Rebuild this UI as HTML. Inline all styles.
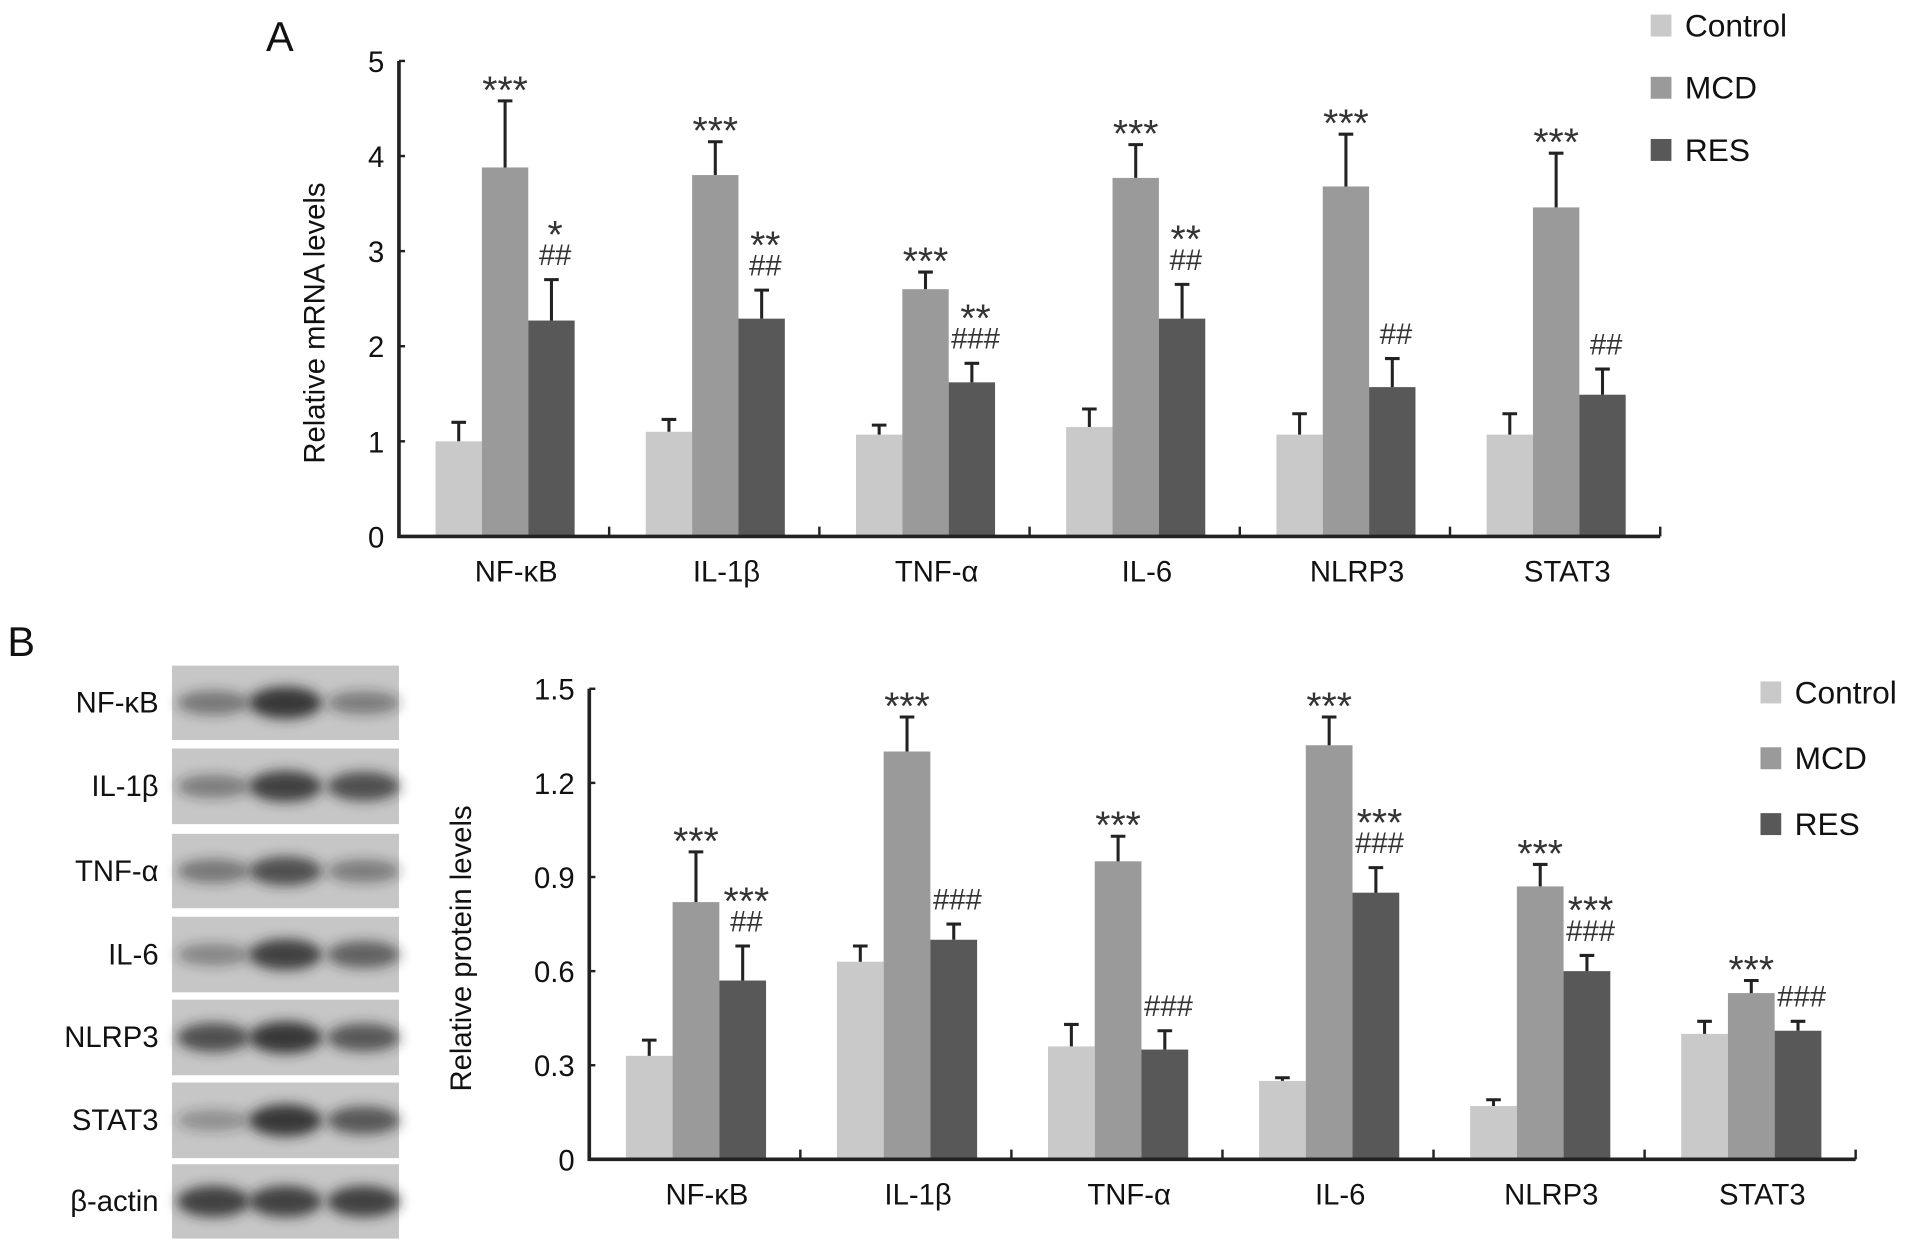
<!DOCTYPE html>
<html><head><meta charset="utf-8"><style>
html,body{margin:0;padding:0;background:#fff;}
svg{display:block;font-family:"Liberation Sans",Arial,sans-serif;}
</style></head><body>
<svg id="fig" width="1913" height="1252" viewBox="0 0 1568 1027" preserveAspectRatio="none" xmlns="http://www.w3.org/2000/svg"></svg>
<script>
const categories = ["NF-κB","IL-1β","TNF-α","IL-6","NLRP3","STAT3"];
const seriesNames = ["Control","MCD","RES"];
const colors = ["#c9c9c9","#9a9a9a","#585858"];
// Panel A
const aControl = [1.0,1.1,1.07,1.15,1.07,1.07];
const aControlErr = [1.2,1.23,1.17,1.34,1.29,1.29];
const aMCD = [3.88,3.8,2.6,3.77,3.68,3.46];
const aMCDErr = [4.58,4.15,2.78,4.12,4.23,4.03];
const aRES = [2.27,2.29,1.62,2.29,1.57,1.49];
const aRESErr = [2.7,2.59,1.82,2.65,1.87,1.76];
const aTicks = [0,1,2,3,4,5];
const aSigMCD = ["***","***","***","***","***","***"];
const aSigRES = [["*","##"],["**","##"],["**","###"],["**","##"],["##"],["##"]];
// Panel B
const bControl = [0.33,0.63,0.36,0.25,0.17,0.40];
const bControlErr = [0.38,0.68,0.43,0.26,0.19,0.44];
const bMCD = [0.82,1.30,0.95,1.32,0.87,0.53];
const bMCDErr = [0.98,1.41,1.03,1.41,0.94,0.57];
const bRES = [0.57,0.70,0.35,0.85,0.60,0.41];
const bRESErr = [0.68,0.75,0.41,0.93,0.65,0.44];
const bTicks = [0,0.3,0.6,0.9,1.2,1.5];
const bTickLabels = ["0","0.3","0.6","0.9","1.2","1.5"];
const bSigMCD = ["***","***","***","***","***","***"];
const bSigRES = [["***","##"],["###"],["###"],["***","###"],["***","###"],["###"]];
const blotLabels = ["NF-κB","IL-1β","TNF-α","IL-6","NLRP3","STAT3","β-actin"];
const blotIntensity = [[0.5,0.9,0.45],[0.45,0.85,0.75],[0.5,0.75,0.45],[0.4,0.85,0.65],[0.75,0.9,0.7],[0.35,0.9,0.7],[0.85,0.85,0.85]];

const svg = document.getElementById('fig');
const NS = "http://www.w3.org/2000/svg";
function el(tag, attrs, parent){const e=document.createElementNS(NS,tag);for(const k in attrs)e.setAttribute(k,attrs[k]);(parent||svg).appendChild(e);return e;}
function txt(s, attrs, parent){const e=el('text',attrs,parent);e.textContent=s;return e;}

function panel(cfg){
  const g = el('g',{});
  
  
  const y = v => cfg.y0 - (v - 0) * (cfg.y0 - cfg.yTop) / cfg.yMax;
  const gx = i => cfg.x0 + i * cfg.step;
  const series = [cfg.c, cfg.m, cfg.r], errs = [cfg.ce, cfg.me, cfg.re];
  categories.forEach((cat, i) => {
    for (let s = 0; s < 3; s++) {
      const x = gx(i) + cfg.off + s * cfg.bw;
      const b = el('rect',{x:x,y:y(series[s][i]),width:cfg.bw,height:y(0)-y(series[s][i]),fill:colors[s]},g);
      
      
      const cx = x + cfg.bw/2;
      const eb = el('path',{d:`M${cx} ${y(series[s][i])}V${y(errs[s][i])}M${cx-6} ${y(errs[s][i])}H${cx+6}`,stroke:'#222','stroke-width':2.5,fill:'none'},g);
      
      
    }
    const mx = gx(i)+cfg.off+cfg.bw*1.5;
    const t1 = txt(cfg.sm[i],{x:mx,y:y(cfg.me[i])+2,'text-anchor':'middle','font-size':32,fill:'#333'},g);
    
    
    const rx = gx(i)+cfg.off+cfg.bw*2.5+3;
    const lines = cfg.sr[i];
    lines.forEach((ln, k) => {
      const isHash = ln[0]==='#';
      const t = txt(ln,{x:rx,y:y(cfg.re[i]) - 12 - (lines.length-1-k)*26 + (isHash?0:12),'text-anchor':'middle','font-size':isHash?24:32,fill:'#333'},g);
      
      
    });
    const lab = txt(cat,{x:gx(i)+cfg.step/2+10,y:cfg.y0+37,'text-anchor':'middle','font-size':24,fill:'#111'},g);
    
    
  });
  const ax = el('path',{d:`M${cfg.x0} ${cfg.yTop}V${cfg.y0}H${gx(6)}`,stroke:'#222','stroke-width':3,fill:'none'},g);
  
  
  for (let i=0;i<=6;i++){ const t=el('path',{d:`M${gx(i)} ${cfg.y0}V${cfg.y0-8}`,stroke:'#222','stroke-width':2},g);   }
  cfg.ticks.forEach((v,k)=>{
    const t=el('path',{d:`M${cfg.x0} ${y(v)}H${cfg.x0+5}`,stroke:'#222','stroke-width':2},g);
     
    const l=txt(cfg.tickLabels[k],{x:cfg.x0-12,y:y(v)+9,'text-anchor':'end','font-size':24,fill:'#111'},g);
     
  });
  const yt = txt(cfg.ytitle,{x:0,y:0,transform:`translate(${cfg.ytx},${(cfg.y0+cfg.yTop)/2+20}) rotate(-90)`,'text-anchor':'middle','font-size':24,fill:'#111'},g);
   
  seriesNames.forEach((n,s)=>{
    const r=el('rect',{x:cfg.lx,y:cfg.ly+s*cfg.lgap,width:17,height:18,fill:colors[s]},g);
     
    const t=txt(n,{x:cfg.lx+28,y:cfg.ly+s*cfg.lgap+18,'font-size':26,fill:'#111'},g);
     
  });
}

panel({name:'panel-a-chart',x0:327,step:172.3,off:30,bw:38,y0:440,yTop:50,yMax:5,c:aControl,ce:aControlErr,m:aMCD,me:aMCDErr,r:aRES,re:aRESErr,ticks:aTicks,tickLabels:aTicks.map(String),sm:aSigMCD,sr:aSigRES,ytitle:'Relative mRNA levels',ytx:266,lx:1353,ly:12,lgap:51});
panel({name:'panel-b-chart',x0:483,step:173,off:30,bw:38.3,y0:951,yTop:565,yMax:1.5,c:bControl,ce:bControlErr,m:bMCD,me:bMCDErr,r:bRES,re:bRESErr,ticks:bTicks,tickLabels:bTickLabels,sm:bSigMCD,sr:bSigRES,ytitle:'Relative protein levels',ytx:386,lx:1443,ly:559,lgap:54});

const pa = txt('A',{x:218,y:42,'font-size':34,fill:'#111'});  
const pb = txt('B',{x:6,y:538,'font-size':34,fill:'#111'});  

// Western blot
const defs = el('defs',{});
const flt = el('filter',{id:'blur',x:'-50%',y:'-50%',width:'200%',height:'200%'},defs);
el('feGaussianBlur',{stdDeviation:5},flt);
const rowsY = [546,614,684,752,820,888,955];
const rowsH = [61,62,61,62,62,62,61];
blotLabels.forEach((lab,r)=>{
  const g = el('g',{});
  
  
  el('rect',{x:141,y:rowsY[r],width:186,height:rowsH[r],fill:'#c6c6c6'},g);
  [175,234,298].forEach((bx,k)=>{
    const a = blotIntensity[r][k];
    el('ellipse',{cx:bx,cy:rowsY[r]+rowsH[r]/2,rx:30,ry:6+8*a,fill:`rgba(40,40,40,${a})`,filter:'url(#blur)'},g);
  });
  const t = txt(lab,{x:130,y:rowsY[r]+rowsH[r]/2+8,'text-anchor':'end','font-size':24,fill:'#111'},g);
   
});
</script>
</body></html>
